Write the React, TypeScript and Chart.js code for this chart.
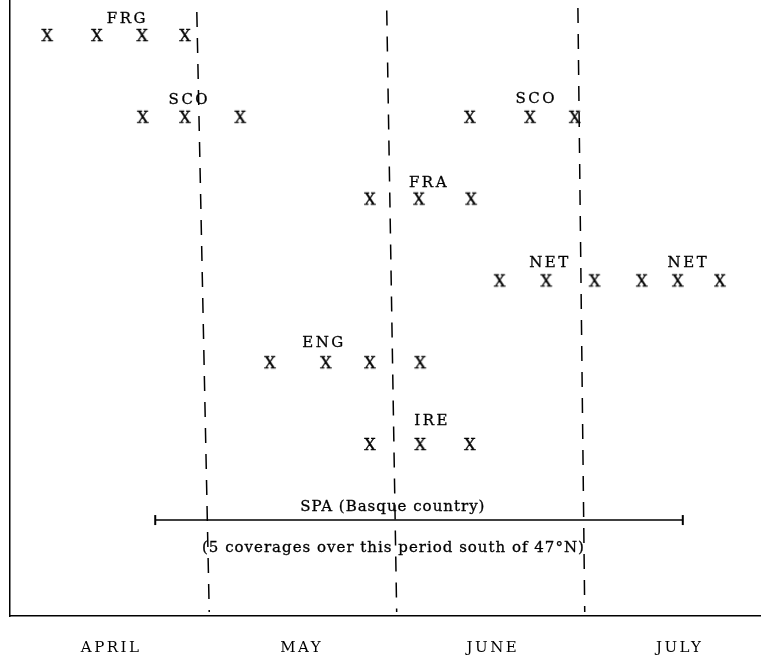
import { useEffect, useRef } from "react";
import { Chart, registerables } from "chart.js";

Chart.register(...registerables);

// ---- data (x = days since 1 April, y = row level) ----
const months = ["APRIL", "MAY", "JUNE", "JULY"];
const monthTickDays = [15.3, 46.0, 76.8, 106.9];

const countries = ["FRG", "SCO", "FRA", "NET", "ENG", "IRE"];
const countryRows = [7, 6, 5, 4, 3, 2];
const frgDays = [5, 13, 20.3, 27.2];
const scoDays = [20.4, 27.2, 36.1, 73.1, 82.8, 90.0];
const fraDays = [57.0, 64.9, 73.3];
const netDays = [77.9, 85.4, 93.2, 100.8, 106.6, 113.4];
const engDays = [40.9, 49.9, 57.0, 65.1];
const ireDays = [57.0, 65.1, 73.1];
const countryDays = [frgDays, scoDays, fraDays, netDays, engDays, ireDays];

const spaStartDay = 22.4;
const spaEndDay = 107.4;
const spaRow = 1.07;

const boundaryTopDays = [29.1, 59.7, 90.5];
const boundaryBottomDays = [31.1, 61.3, 91.6];
const boundaryTopRows = [7.28, 7.3, 7.33];
const boundaryBottomRow = -0.053;

const labelTexts = ["FRG", "SCO", "SCO", "FRA", "NET", "NET", "ENG", "IRE"];
const labelDays = [17.7, 27.7, 83.6, 66.3, 85.8, 108.1, 49.4, 66.8];
const labelRows = [7.208, 6.218, 6.23, 5.215, 4.225, 4.225, 3.247, 2.294];

const noteTexts = ["SPA (Basque country)", "(5 coverages over this period south of 47°N)"];
const noteDays = [60.6, 60.7];
const noteRows = [1.254, 0.741];

const X_MIN = -1;
const X_MAX = 120;
const Y_MIN = -0.103;
const Y_MAX = 7.428;

const INK = "#000";
const FONT_FAMILY = '"DejaVu Serif", "Liberation Serif", serif';
const FONT_SIZE = 15;
const CAP_HALF = 5.5;
const MARK_SIZE = 16;

function makeXGlyph(): HTMLCanvasElement {
  const c = document.createElement("canvas");
  c.width = 20;
  c.height = 20;
  const g = c.getContext("2d")!;
  g.fillStyle = INK;
  g.strokeStyle = INK;
  g.lineWidth = 0.4;
  g.font = `${MARK_SIZE}px ${FONT_FAMILY}`;
  g.textAlign = "center";
  g.textBaseline = "alphabetic";
  const base = 10 + (MARK_SIZE * 0.729) / 2;
  g.fillText("X", 10, base);
  g.strokeText("X", 10, base);
  return c;
}

const textPlugin = {
  id: "chartTexts",
  beforeDraw(chart: any) {
    chart.ctx.letterSpacing = "2.5px";
  },
  afterDatasetsDraw(chart: any) {
    const { ctx, scales } = chart;
    ctx.save();
    ctx.fillStyle = INK;
    ctx.strokeStyle = INK;
    ctx.lineWidth = 0.3;
    ctx.font = `${FONT_SIZE}px ${FONT_FAMILY}`;
    ctx.textAlign = "center";
    ctx.textBaseline = "alphabetic";
    ctx.letterSpacing = "2.5px";
    labelTexts.forEach((t, i) => {
      const x = scales.x.getPixelForValue(labelDays[i]) + 1.25;
      const y = scales.y.getPixelForValue(labelRows[i]) + CAP_HALF;
      ctx.fillText(t, x, y);
      ctx.strokeText(t, x, y);
    });
    ctx.letterSpacing = "1px";
    noteTexts.forEach((t, i) => {
      const x = scales.x.getPixelForValue(noteDays[i]) + 0.5;
      const y = scales.y.getPixelForValue(noteRows[i]) + CAP_HALF;
      ctx.fillText(t, x, y);
      ctx.strokeText(t, x, y);
    });
    ctx.restore();
  },
  afterDraw(chart: any) {
    chart.ctx.letterSpacing = "0px";
  },
};

export default function App() {
  const ref = useRef<HTMLCanvasElement | null>(null);

  useEffect(() => {
    if (!ref.current) return;
    const glyph = makeXGlyph();

    const markDatasets = countries.map((name, i) => ({
      label: name,
      data: countryDays[i].map((d) => ({ x: d, y: countryRows[i] })),
      pointStyle: glyph,
      pointRadius: 6,
      showLine: false,
    }));

    const boundaryDatasets = boundaryTopDays.map((d, i) => ({
      label: "boundary" + i,
      data: [
        { x: d, y: boundaryTopRows[i] },
        { x: boundaryBottomDays[i], y: boundaryBottomRow },
      ],
      showLine: true,
      borderColor: INK,
      borderWidth: 1.5,
      borderDash: [15, 11],
      pointRadius: 0,
    }));

    const spaDataset = {
      label: "SPA",
      data: [
        { x: spaStartDay, y: spaRow },
        { x: spaEndDay, y: spaRow },
      ],
      showLine: true,
      borderColor: INK,
      borderWidth: 1.5,
      pointStyle: "line",
      rotation: 90,
      pointRadius: 5,
      pointBorderWidth: 2,
      pointBorderColor: INK,
    };

    const chart = new Chart(ref.current, {
      type: "scatter",
      data: { datasets: [...boundaryDatasets, spaDataset, ...markDatasets] as any },
      options: {
        animation: false,
        responsive: false,
        devicePixelRatio: 1,
        layout: { autoPadding: false, padding: { left: 10, top: 0, right: 0, bottom: -24 } },
        plugins: {
          legend: { display: false },
          tooltip: { enabled: false },
        },
        scales: {
          x: {
            type: "linear",
            min: X_MIN,
            max: X_MAX,
            grid: { display: false, drawTicks: false },
            border: { display: true, color: INK, width: 1.5 },
            afterBuildTicks: (axis: any) => {
              axis.ticks = monthTickDays.map((v) => ({ value: v }));
            },
            ticks: {
              autoSkip: false,
              maxRotation: 0,
              padding: 23,
              color: INK,
              font: { family: FONT_FAMILY, size: FONT_SIZE },
              callback: (_v: any, i: number) => months[i],
            },
          },
          y: {
            type: "linear",
            min: Y_MIN,
            max: Y_MAX,
            grid: { display: false, drawTicks: false },
            border: { display: true, color: INK, width: 1.5 },
            ticks: { display: false },
          },
        },
      },
      plugins: [textPlugin],
    });
    return () => chart.destroy();
  }, []);

  return (
    <div style={{ position: "absolute", left: 0, top: 0, width: 761, height: 656, background: "#fff", overflow: "hidden" }}>
      <canvas ref={ref} width={761} height={656} style={{ display: "block", width: 761, height: 656 }} />
    </div>
  );
}
